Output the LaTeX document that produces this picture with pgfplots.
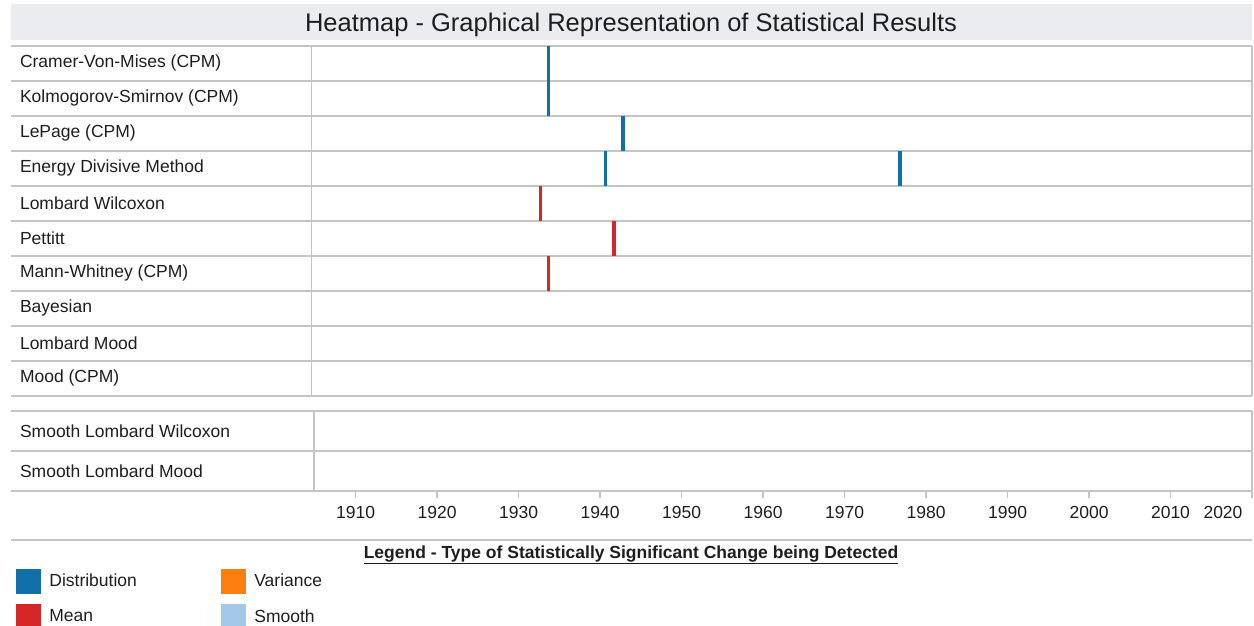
\documentclass[border=0pt]{standalone}
\usepackage{pgfplots}
\pgfplotsset{compat=1.18}
\usepackage{fontspec}
\setmainfont{Liberation Sans}
\definecolor{cDist}{HTML}{1170AA}
\definecolor{cMean}{HTML}{D62728}
\definecolor{cVar}{HTML}{FF7F0E}
\definecolor{cSmooth}{HTML}{A3C8E8}
\definecolor{gridc}{HTML}{C4C4C4}
\definecolor{titlebg}{HTML}{EBECF0}
\definecolor{txt}{HTML}{1E1E1E}
\newcommand{\lbl}{\fontsize{17.5}{20}\selectfont}
\pgfplotsset{tab/.style={scale only axis, width=1241pt, xmin=1867.7, xmax=2020,
  y dir=reverse, ytick style={draw=none},
  minor tick length=0pt, yminorgrids=true,
  minor grid style={gridc, line width=1.6pt},
  yticklabel style={anchor=west, xshift=5.5pt, font=\lbl, text=txt}, clip=false}}
\begin{document}
\begin{tikzpicture}[x=1pt,y=1pt]
\useasboundingbox (0,0) rectangle (1254,-626);
\fill[titlebg] (11,-4) rectangle (1252,-40);
\node[text=txt,font=\fontsize{25.5}{28}\selectfont] at (631,-24.5) {Heatmap - Graphical Representation of Statistical Results};

\begin{axis}[tab, axis line style={draw=none}, at={(11pt,-45.7pt)}, anchor=north west, height=350pt,
  ymin=0, ymax=10, xtick=\empty,
  ytick={0.5,1.5,2.5,3.5,4.5,5.5,6.5,7.5,8.5,9.5}, minor ytick={0,1,...,10},
  yticklabels={Cramer-Von-Mises (CPM), Kolmogorov-Smirnov (CPM), LePage (CPM), Energy Divisive Method, Lombard Wilcoxon, Pettitt, Mann-Whitney (CPM), Bayesian, Lombard Mood, Mood (CPM)}]
\draw[gridc, line width=1.6pt] (axis cs:1904.6,0) -- (axis cs:1904.6,10);
\draw[gridc, line width=1.6pt] (axis cs:2020,0) -- (axis cs:2020,10);
% Distribution changes
\addplot[only marks, mark=|, mark size=17.5pt, mark options={line width=3.2pt, draw=cDist}]
  coordinates {(1933.7,0.5) (1933.7,1.5) (1942.8,2.5) (1940.7,3.5) (1976.8,3.5)};
% Mean changes
\addplot[only marks, mark=|, mark size=17.5pt, mark options={line width=3.2pt, draw=cMean}]
  coordinates {(1932.7,4.5) (1941.7,5.5) (1933.7,6.5)};
\end{axis}

\begin{axis}[tab, at={(11pt,-411pt)}, anchor=north west, height=80pt,
  axis x line*=bottom, axis y line*=left,
  x axis line style={draw=gridc, line width=1.6pt, -},
  y axis line style={draw=none},
  ymin=0, ymax=2, ytick={0.5,1.5}, minor ytick={0,1,2},
  yticklabels={Smooth Lombard Wilcoxon, Smooth Lombard Mood},
  xtick={1910,1920,...,2010}, extra x ticks={2020},
  extra x tick style={xticklabel style={xshift=-29pt}},
  xtick align=outside, major tick length=7pt,
  xtick style={draw=gridc, line width=1.4pt},
  /pgf/number format/1000 sep={}, /pgf/number format/assume math mode=true,
  xticklabel style={font=\lbl, text=txt, yshift=-5pt},
  legend columns=2, legend cell align=left,
  legend style={at={(axis description cs:0.00403,-0.975)}, anchor=north west,
    draw=none, fill=none, inner sep=0pt, outer sep=0pt, row sep=11pt,
    nodes={inner sep=0pt, font=\lbl, text=txt},
    /tikz/every odd column/.append style={column sep=9pt},
    /tikz/every even column/.append style={column sep=84pt}}]
\draw[gridc, line width=1.6pt] (axis cs:1904.92,0) -- (axis cs:1904.92,2);
\draw[gridc, line width=1.6pt] (axis cs:2020,0) -- (axis cs:2020,2);
\addlegendimage{legend image code/.code={\fill[cDist] (0pt,-12pt) rectangle (24pt,12pt);}}
\addlegendentry{Distribution}
\addlegendimage{legend image code/.code={\fill[cVar] (0pt,-12pt) rectangle (24pt,12pt);}}
\addlegendentry{Variance}
\addlegendimage{legend image code/.code={\fill[cMean] (0pt,-12pt) rectangle (24pt,12pt);}}
\addlegendentry{Mean}
\addlegendimage{legend image code/.code={\fill[cSmooth] (0pt,-12pt) rectangle (24pt,12pt);}}
\addlegendentry{Smooth}
\end{axis}

\draw[gridc, line width=1.6pt] (11,-540) -- (1252,-540);
\node[font=\bfseries\lbl, text=txt] at (631,-555) {\underline{Legend - Type of Statistically Significant Change being Detected}};
\end{tikzpicture}
\end{document}
